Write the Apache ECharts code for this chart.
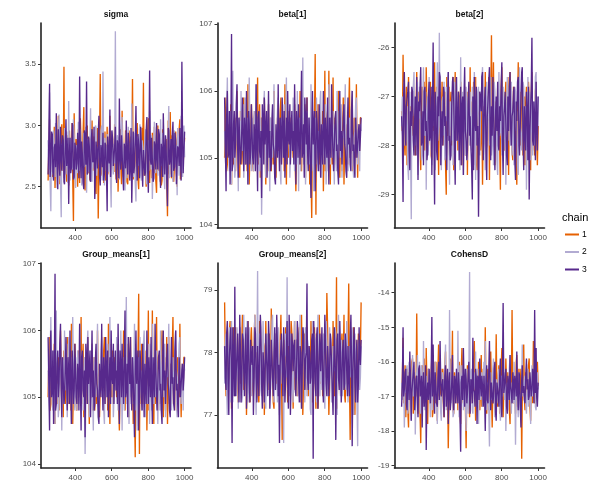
<!DOCTYPE html>
<html><head><meta charset="utf-8">
<script src="https://cdn.jsdelivr.net/npm/echarts@6/dist/echarts.min.js"></script>
<style>html,body{margin:0;padding:0;background:#fff}#c{width:600px;height:500px}</style>
</head><body><div id="c"></div>
<script>
// Thinned traces: 200 draws per chain, iterations 251..1000
const chainNames = ['1', '2', '3'];
const chainColors = ['#e66101', '#b2abd2', '#57298c'];
const panelTitles = ['sigma', 'beta[1]', 'beta[2]', 'Group_means[1]', 'Group_means[2]', 'CohensD'];
const xTickValues = [400, 600, 800, 1000];
const iterStart = 251, iterEnd = 1000, drawsPerChain = 200;

const sigmaTicks = [2.5, 3.0, 3.5];
const beta1Ticks = [104, 105, 106, 107];
const beta2Ticks = [-29, -28, -27, -26];
const gm1Ticks = [104, 105, 106, 107];
const gm2Ticks = [77, 78, 79];
const cohensTicks = [-19, -18, -17, -16, -15, -14];

// visible y extents of each panel
const sigmaRange = [2.163, 3.837];
const beta1Range = [103.95, 107.015];
const beta2Range = [-29.68, -25.5];
const gm1Range = [103.94, 107.01];
const gm2Range = [76.15, 79.43];
const cohensRange = [-19.07, -13.14];

const sigmaChain1 = [
2.55,2.81,3.05,2.67,2.62,2.93,2.88,2.58,2.71,2.99,2.49,2.76,2.95,2.60,2.66,3.08,2.80,2.52,2.58,2.85,
3.01,2.69,2.63,3.48,2.60,2.83,2.74,2.54,2.92,2.77,2.51,2.96,2.83,2.64,2.69,3.02,2.57,2.22,3.10,2.73,
2.64,2.89,2.78,2.50,2.97,2.71,2.53,3.06,2.87,2.61,2.70,2.94,3.15,2.56,2.47,2.82,2.76,3.00,2.61,2.68,
2.90,2.55,2.57,2.86,3.04,2.63,2.68,2.91,2.81,2.48,2.44,2.79,2.98,2.24,2.66,2.87,3.42,2.59,2.63,2.92,
2.86,2.53,2.72,2.95,2.55,2.69,2.99,2.60,2.67,2.84,3.08,2.58,2.50,2.90,2.79,2.65,2.62,3.01,2.93,2.56,
2.71,2.88,2.46,2.74,2.84,2.97,2.65,2.52,3.12,2.80,2.58,2.68,2.77,2.96,2.89,2.54,2.52,2.83,2.96,2.67,
2.69,2.91,2.74,3.38,2.56,2.78,2.82,2.60,2.63,2.95,3.02,2.57,2.48,2.86,2.91,2.64,2.70,2.98,2.75,3.35,
2.59,2.81,2.85,2.50,2.66,2.93,3.06,2.62,2.53,2.88,2.78,2.57,2.94,2.73,2.61,2.99,2.87,2.55,2.45,2.82,
3.00,2.63,2.68,2.90,2.80,2.51,2.55,2.97,2.97,2.66,2.64,2.85,2.89,2.58,2.26,3.04,2.73,2.60,3.11,2.77,
2.57,2.92,2.83,2.54,2.67,2.88,2.95,2.61,2.50,2.79,2.76,2.97,3.05,2.56,2.62,2.86,2.84,2.69,2.70,2.90];
const sigmaChain2 = [
2.88,2.64,3.27,2.55,2.30,2.91,2.74,2.60,2.96,2.70,2.58,3.02,2.81,2.49,2.66,2.93,3.09,2.62,2.52,2.25,
2.85,2.76,2.71,2.57,2.98,2.83,2.60,2.95,2.77,2.53,3.20,2.69,2.55,2.90,2.83,2.64,2.68,3.05,2.92,2.58,
2.49,2.84,2.75,2.61,3.03,2.72,2.63,2.97,2.86,2.51,2.57,2.80,2.94,2.66,2.70,2.99,2.45,2.78,2.89,2.62,
2.67,2.93,3.14,2.56,2.54,2.87,2.80,2.65,2.72,3.00,2.98,2.59,2.59,2.82,2.84,2.68,2.66,2.96,3.00,2.55,
3.44,2.77,2.51,2.90,2.78,2.63,2.93,2.71,2.62,2.88,2.87,2.52,2.33,2.95,2.74,2.60,2.85,2.69,3.77,2.64,
2.65,2.92,2.90,2.58,2.56,2.81,2.82,3.01,3.07,2.62,2.68,2.86,2.47,2.79,2.95,2.57,2.73,2.99,2.60,2.70,
2.86,2.61,3.18,2.74,2.58,2.94,2.79,2.53,2.38,2.83,2.91,2.67,2.69,2.97,3.01,2.59,2.55,2.88,2.83,2.64,
2.71,2.90,2.97,2.56,2.52,2.80,2.88,2.63,3.12,2.75,2.64,2.92,2.40,2.68,2.85,3.03,2.76,2.61,2.99,2.78,
2.59,2.87,2.81,2.54,3.05,2.72,2.67,2.94,2.93,2.60,2.48,2.82,2.78,2.66,2.62,2.95,3.16,2.57,2.70,2.89,
2.87,2.63,2.54,2.91,2.96,2.68,2.73,2.84,2.43,2.98,2.90,2.59,2.66,2.81,3.08,2.62,2.58,2.93,3.00,2.74];
const sigmaChain3 = [
2.60,2.89,3.34,2.58,2.70,2.95,2.93,2.62,2.55,2.82,2.85,2.66,3.10,2.71,2.48,2.97,2.77,2.59,2.99,2.73,
2.63,2.92,2.88,2.54,2.52,2.81,3.05,2.67,2.74,2.90,2.36,2.78,2.90,2.61,2.66,3.02,3.00,2.56,2.58,2.86,
2.81,2.64,2.69,2.94,2.95,2.57,3.40,2.75,2.57,2.87,2.76,2.53,2.48,2.96,2.92,2.68,3.36,2.60,2.62,2.91,
2.83,2.56,2.54,2.89,2.97,2.70,2.72,2.99,2.40,2.64,2.87,2.78,2.65,2.93,3.08,2.59,2.51,2.84,2.79,2.66,
2.94,2.55,2.61,2.86,2.84,2.63,2.30,2.91,2.75,2.69,3.13,2.58,2.58,2.96,2.89,2.67,2.68,2.82,2.99,2.62,
2.53,2.88,2.82,2.57,3.22,2.74,2.64,2.92,2.91,2.60,2.47,2.85,2.78,2.65,3.04,2.73,2.60,2.94,2.86,2.55,
2.71,2.98,2.37,2.69,2.95,2.61,2.67,2.88,3.16,2.70,2.55,2.93,2.84,2.57,2.73,2.99,2.99,2.63,2.50,2.80,
2.80,2.59,2.62,2.95,3.07,2.66,2.45,2.83,3.45,2.72,2.68,2.90,2.90,2.54,2.57,2.87,2.83,2.64,3.02,2.76,
2.64,2.97,2.93,2.60,2.49,2.85,2.79,2.58,3.10,2.81,2.60,2.92,2.87,2.56,2.34,2.98,2.96,2.68,2.72,2.89,
2.58,2.91,3.03,2.63,2.66,2.94,2.88,2.52,2.52,2.83,2.81,2.67,2.98,2.74,2.55,3.52,2.85,2.61,2.79,2.95];

const beta1Chain1 = [
105.0,105.6,105.9,104.8,104.9,105.4,105.5,105.1,105.2,105.8,104.6,105.3,105.7,104.9,105.3,105.6,104.8,105.2,106.0,105.4,
105.4,105.0,104.7,105.7,105.6,104.9,105.1,105.5,105.9,105.2,104.9,105.6,105.3,104.8,106.1,105.4,104.6,105.1,105.5,105.8,
105.2,104.9,104.8,105.6,105.7,105.0,105.0,105.4,106.2,104.9,105.4,105.8,104.7,105.3,105.6,104.9,105.1,105.7,105.9,105.2,
104.6,105.5,105.3,105.0,105.8,104.8,105.0,105.6,104.8,105.3,105.5,104.9,106.0,105.2,105.2,104.7,104.7,105.6,105.6,105.1,
105.1,105.7,105.9,104.9,104.9,105.5,105.4,104.8,106.1,105.3,104.6,105.8,105.3,105.0,105.7,104.9,104.9,105.6,105.5,105.2,
105.0,105.6,105.8,104.8,104.5,105.3,105.4,105.7,105.2,104.9,106.0,105.4,104.8,105.2,105.6,105.0,105.3,105.8,104.7,105.4,
105.9,105.0,105.1,105.5,104.6,105.3,104.8,104.1,105.5,105.0,105.1,105.6,106.55,104.15,105.4,104.9,105.8,105.2,104.9,105.6,
105.6,104.9,105.2,105.7,104.5,105.3,106.3,104.8,105.0,105.6,105.7,105.0,106.3,104.9,104.6,105.5,105.4,104.9,106.2,105.3,
104.8,105.6,105.5,104.9,105.1,105.7,106.0,105.0,104.7,105.4,105.6,104.8,105.2,105.9,104.6,105.3,105.9,104.9,105.3,105.5,
104.9,105.7,106.2,105.0,105.0,105.4,105.7,104.8,104.8,105.6,105.4,105.0,106.1,105.3,104.7,105.5,105.5,105.1,105.6,105.6];
const beta1Chain2 = [
105.4,105.0,104.8,105.6,106.2,105.1,105.0,104.8,105.7,105.4,104.6,105.9,106.3,105.0,105.2,104.7,104.9,105.5,105.8,105.1,
104.5,105.6,105.5,104.9,106.0,105.3,105.1,105.8,104.7,105.2,105.9,104.9,105.3,105.6,104.6,105.1,106.2,105.4,105.0,104.8,
105.6,105.2,104.8,105.7,105.4,104.9,106.1,105.3,104.9,105.5,105.7,104.8,105.2,105.6,104.15,105.0,105.5,105.8,106.0,105.1,
104.7,105.4,105.3,105.0,105.8,104.9,104.5,105.6,105.6,105.1,105.0,105.5,106.1,104.9,104.8,105.3,105.4,105.7,105.9,105.2,
105.1,104.8,104.6,105.5,105.7,105.0,105.3,105.8,104.9,105.2,106.2,105.0,105.0,105.5,105.6,104.7,104.7,105.3,105.5,105.1,
105.9,105.3,104.8,105.6,105.3,104.9,106.0,105.2,104.5,105.6,105.4,104.8,105.8,105.2,106.5,104.9,105.1,105.6,104.6,105.3,
105.7,104.9,105.2,105.6,104.9,105.3,106.1,104.8,105.0,105.5,104.5,105.2,105.6,104.9,105.9,105.3,104.8,105.4,105.3,105.8,
106.0,105.1,104.7,105.5,105.5,104.9,105.1,105.8,104.6,105.3,105.8,104.8,106.1,105.2,104.9,105.6,105.4,105.0,105.7,105.1,
104.6,105.5,105.2,104.8,106.0,105.3,104.9,105.7,105.5,105.0,105.8,104.7,104.7,105.4,105.3,105.6,106.1,104.9,105.0,105.5,
104.8,105.4,105.6,105.0,105.2,105.7,106.0,104.9,104.7,105.3,105.4,105.8,105.9,105.1,104.9,105.5,105.3,104.8,105.5,105.4];
const beta1Chain3 = [
105.9,105.2,104.5,105.6,106.0,105.0,105.1,105.7,104.6,105.3,106.85,104.8,104.9,105.5,105.7,105.0,105.2,105.8,106.1,105.1,
104.7,105.6,105.6,104.9,105.0,105.4,105.9,105.2,104.8,105.6,105.4,104.9,106.0,105.3,104.6,105.7,105.5,104.9,105.1,105.8,
105.8,105.0,104.9,105.5,105.3,104.8,106.1,105.2,104.5,105.6,105.7,105.1,105.0,105.4,104.4,105.8,105.6,104.9,105.9,105.2,
105.2,105.7,104.7,105.3,106.0,105.0,105.4,104.8,104.9,105.6,105.8,105.2,105.1,104.7,104.6,105.5,105.5,105.0,106.1,105.3,
104.8,105.6,105.3,104.9,105.9,105.4,105.0,105.7,104.7,105.2,105.6,104.9,106.0,105.3,105.2,105.8,104.9,105.4,105.7,105.1,
105.4,104.9,106.1,105.3,104.6,105.7,105.5,105.0,105.8,105.3,104.9,105.6,106.3,105.0,105.1,105.5,104.7,105.9,105.6,105.2,
105.9,105.1,104.8,105.6,105.3,104.9,104.4,105.4,106.0,105.2,105.2,105.7,104.5,105.0,105.7,105.5,105.0,104.8,105.8,105.3,
104.7,105.5,105.5,104.9,106.0,105.4,104.9,105.6,105.3,105.0,105.9,105.2,104.6,105.6,105.6,105.0,106.1,105.4,105.0,104.8,
104.8,105.6,105.7,105.1,105.2,104.8,104.6,105.7,106.0,105.1,105.4,104.9,104.9,105.6,105.8,105.2,105.1,104.8,104.7,105.5,
105.9,105.2,105.3,104.9,104.8,105.7,106.0,105.1,105.2,104.9,104.7,105.6,105.6,105.0,105.0,105.4,105.5,105.1,105.3,105.6];

const beta2Chain1 = [
-27.3,-27.7,-26.15,-27.0,-27.9,-28.2,-27.1,-26.8,-28.4,-27.5,-26.6,-27.9,-27.6,-27.2,-28.0,-26.9,-26.9,-27.8,-27.4,-27.1,
-28.2,-27.4,-26.5,-27.8,-27.7,-26.9,-27.0,-28.1,-28.5,-27.3,-26.8,-27.6,-27.5,-26.7,-28.1,-27.8,-26.4,-27.2,-27.2,-28.0,
-27.8,-27.1,-26.7,-28.2,-28.3,-27.0,-27.4,-27.7,-26.3,-28.0,-27.9,-26.8,-27.1,-27.5,-28.6,-27.3,-26.9,-27.9,-27.5,-26.7,
-28.0,-27.4,-27.2,-26.9,-28.4,-29.0,-26.6,-27.8,-27.7,-26.8,-28.2,-27.2,-26.9,-28.0,-27.4,-26.6,-28.5,-27.5,-26.5,-27.9,
-27.6,-27.1,-28.1,-26.9,-27.0,-28.3,-26.7,-27.5,-28.4,-27.0,-27.3,-27.9,-26.8,-28.2,-27.9,-26.9,-28.6,-27.2,-27.1,-27.7,
-26.4,-28.0,-27.8,-27.1,-28.2,-26.7,-27.0,-27.6,-26.6,-28.3,-28.5,-27.4,-27.3,-26.9,-26.9,-28.1,-27.7,-27.2,-28.8,-27.4,
-27.2,-27.9,-26.5,-28.1,-28.0,-27.0,-27.5,-26.6,-28.7,-27.4,-27.2,-25.75,-27.9,-27.0,-26.3,-28.2,-28.4,-27.1,-27.1,-27.8,
-26.8,-27.3,-27.6,-28.0,-28.9,-26.9,-26.4,-27.6,-27.3,-28.0,-28.1,-27.0,-26.7,-27.9,-27.8,-26.6,-28.6,-27.3,-26.5,-27.7,
-27.4,-28.1,-28.3,-26.8,-26.9,-27.6,-27.7,-28.4,-28.8,-27.2,-26.3,-27.8,-27.2,-26.9,-28.0,-27.4,-26.6,-28.2,-27.5,-27.0,
-28.4,-27.2,-26.8,-27.8,-27.9,-26.7,-27.1,-27.5,-28.5,-27.0,-26.5,-28.1,-27.6,-27.3,-28.2,-26.9,-26.7,-27.8,-28.4,-27.6];
const beta2Chain2 = [
-27.6,-27.0,-28.3,-26.9,-26.7,-28.0,-27.9,-27.3,-27.2,-28.4,-28.7,-27.1,-26.9,-28.1,-29.5,-27.2,-27.4,-26.8,-26.5,-27.9,
-28.0,-27.3,-27.1,-26.7,-28.6,-27.8,-26.8,-27.4,-27.5,-28.3,-28.2,-27.0,-26.4,-27.7,-27.8,-26.9,-28.9,-27.4,-27.0,-28.2,
-26.6,-27.5,-27.7,-28.1,-28.4,-27.0,-26.9,-27.6,-27.3,-28.5,-28.1,-27.2,-26.3,-27.9,-27.6,-25.7,-27.6,-28.0,-28.5,-27.1,
-27.0,-27.8,-26.7,-28.3,-28.2,-26.8,-27.5,-27.3,-26.5,-28.0,-28.8,-27.1,-27.2,-27.9,-26.9,-28.4,-27.8,-26.7,-28.3,-27.2,
-26.6,-27.9,-27.4,-27.0,-28.0,-28.5,-26.2,-27.4,-27.7,-26.9,-28.6,-27.6,-27.1,-28.2,-26.8,-27.5,-28.3,-27.0,-27.5,-28.0,
-26.9,-27.7,-28.1,-26.8,-27.3,-28.4,-26.5,-27.1,-28.7,-27.4,-27.6,-26.9,-26.8,-28.0,-28.2,-27.3,-27.0,-26.7,-26.4,-28.1,
-27.8,-27.2,-28.5,-27.5,-26.7,-27.9,-27.2,-26.8,-28.0,-27.4,-26.6,-28.2,-27.9,-27.0,-28.4,-26.7,-26.9,-27.8,-27.3,-28.3,
-28.6,-27.1,-26.5,-27.8,-27.7,-26.9,-28.2,-27.5,-26.8,-28.1,-27.4,-27.0,-28.8,-27.3,-26.6,-27.9,-27.1,-26.8,-28.0,-27.5,
-26.7,-28.2,-27.9,-27.1,-28.4,-26.8,-26.9,-27.7,-27.3,-28.4,-28.6,-27.1,-26.4,-27.6,-27.6,-28.1,-28.1,-26.7,-26.8,-27.9,
-27.5,-27.2,-28.9,-27.8,-26.6,-28.0,-27.2,-26.9,-28.3,-27.4,-26.9,-28.2,-27.7,-27.1,-28.0,-26.6,-26.5,-27.8,-27.4,-27.0];
const beta2Chain3 = [
-27.4,-27.8,-29.15,-27.0,-26.5,-27.6,-28.0,-27.2,-27.2,-26.9,-26.7,-28.1,-28.5,-27.3,-27.6,-26.8,-26.9,-27.9,-28.2,-27.4,
-27.0,-28.2,-26.6,-27.5,-28.7,-27.1,-27.3,-26.7,-26.4,-28.0,-27.9,-27.3,-28.4,-26.9,-26.8,-27.7,-27.5,-28.3,-28.1,-27.0,
-26.7,-27.9,-27.8,-26.8,-28.6,-27.4,-25.9,-27.8,-29.2,-26.9,-27.2,-28.1,-28.3,-27.0,-27.4,-26.5,-26.6,-28.4,-27.7,-27.3,
-28.0,-26.8,-26.9,-27.6,-27.4,-28.2,-28.5,-27.1,-26.5,-27.9,-27.8,-28.3,-28.2,-27.2,-26.7,-26.6,-27.1,-28.0,-28.8,-27.3,
-26.6,-27.9,-27.5,-26.9,-28.3,-27.6,-26.8,-28.4,-27.2,-27.0,-28.6,-26.9,-26.4,-27.7,-27.9,-28.3,-28.1,-27.1,-26.7,-27.8,
-27.4,-28.0,-28.4,-29.1,-27.0,-28.5,-26.6,-27.5,-27.7,-26.8,-28.0,-27.6,-29.45,-28.2,-26.9,-27.0,-27.3,-26.6,-26.5,-28.3,
-27.6,-27.1,-26.8,-28.1,-28.7,-27.4,-27.1,-26.7,-26.4,-27.9,-28.3,-27.2,-27.8,-26.6,-26.6,-28.0,-28.5,-27.3,-27.0,-27.7,
-26.7,-28.0,-28.1,-27.2,-27.5,-26.8,-26.3,-27.9,-28.6,-27.4,-27.2,-26.9,-26.9,-28.2,-28.4,-27.0,-27.7,-26.8,-26.5,-27.6,
-28.0,-27.4,-27.3,-26.9,-26.8,-28.3,-28.7,-27.1,-27.5,-26.7,-26.6,-28.0,-28.2,-27.6,-27.0,-26.5,-26.4,-27.8,-28.5,-27.2,
-27.6,-28.1,-26.9,-27.3,-28.3,-26.8,-29.1,-27.7,-27.2,-26.9,-25.8,-27.9,-28.0,-27.1,-27.4,-28.3,-26.7,-27.5,-28.1,-27.0];

// Group_means[1] traces are identical to beta[1] in the reference
const gm1Chain1 = beta1Chain1;
const gm1Chain2 = beta1Chain2;
const gm1Chain3 = beta1Chain3;

const gm2Chain1 = [
78.8,77.9,77.3,78.1,78.2,77.5,77.6,78.3,78.5,77.7,77.1,77.9,78.0,78.4,77.5,77.3,78.4,78.1,77.8,77.4,
77.2,78.0,78.3,77.5,77.7,78.2,78.6,77.6,77.4,77.9,78.1,78.3,77.0,77.7,78.5,78.0,77.6,77.2,78.2,78.4,
77.9,77.5,77.3,78.2,78.6,77.6,77.5,78.0,78.0,77.3,77.2,78.5,78.4,77.8,77.7,77.4,78.2,78.1,77.0,77.6,
78.5,77.9,77.6,77.4,78.1,78.3,77.3,77.6,78.7,78.0,77.8,77.2,77.1,78.3,78.3,77.7,77.5,78.1,78.0,77.5,
77.4,78.2,78.6,77.7,76.6,77.9,78.2,77.3,77.7,78.4,78.4,77.6,77.2,78.1,78.0,77.4,77.5,78.5,78.3,77.9,
77.1,77.9,78.5,77.4,77.8,78.2,77.3,77.6,78.1,78.4,77.6,77.2,78.6,78.0,77.0,77.5,78.2,78.3,77.7,77.4,
78.4,77.8,77.3,78.1,77.9,77.5,78.5,78.2,77.2,77.6,78.0,78.4,77.6,77.1,78.3,78.0,77.1,77.4,78.6,78.2,
77.5,77.8,78.1,77.3,77.4,78.2,78.1,77.6,77.7,78.95,78.4,77.9,77.0,77.5,78.2,78.0,77.6,77.3,78.5,78.1,
77.3,78.1,77.8,79.2,77.1,77.6,78.3,78.0,77.6,77.4,78.0,78.3,77.4,77.9,78.6,77.3,77.2,78.1,77.8,77.5,
78.2,79.1,77.5,76.6,78.2,77.9,77.5,78.0,78.4,77.4,77.0,78.2,78.1,77.6,77.7,78.3,78.3,77.6,78.0,78.8];
const gm2Chain2 = [
77.5,78.1,78.3,77.4,77.0,77.8,78.1,78.4,77.7,77.2,78.5,77.9,77.2,77.6,78.0,78.3,77.6,77.3,78.4,78.0,
77.1,77.7,78.2,78.4,77.8,77.2,77.3,78.1,78.6,77.7,77.5,77.9,78.0,78.5,77.2,77.5,78.4,78.1,77.7,77.3,
78.1,77.8,77.4,78.2,78.6,77.5,77.0,77.9,79.3,77.6,77.6,78.3,78.2,77.4,77.3,77.9,78.5,78.0,77.8,77.2,
77.1,77.9,78.3,77.5,77.6,78.2,78.0,77.4,77.4,78.5,78.6,77.7,77.2,77.4,78.1,78.3,77.7,77.2,78.4,78.0,
77.0,77.7,78.2,77.8,77.5,77.6,76.55,77.9,78.0,78.3,77.6,79.2,77.4,77.8,77.3,77.5,78.3,78.0,77.8,77.4,
77.2,78.0,78.5,77.6,77.7,78.2,78.0,77.3,77.4,78.1,78.6,77.5,77.1,77.8,78.2,78.4,77.6,77.2,78.4,77.9,
77.3,78.2,78.1,77.5,77.8,77.1,77.0,78.0,78.5,77.6,77.5,78.3,78.2,77.4,77.2,77.8,78.6,78.1,77.7,77.3,
78.0,77.6,77.4,78.2,78.3,77.5,77.1,77.9,78.5,78.2,77.6,77.3,77.9,78.4,78.4,77.6,77.2,77.7,78.1,78.0,
77.7,78.4,78.3,77.5,77.0,77.8,78.6,78.1,77.5,77.3,78.2,78.0,77.3,77.6,78.0,78.3,77.6,77.4,78.5,78.1,
77.2,77.9,78.1,77.6,77.8,78.3,78.4,77.5,77.0,77.8,78.3,77.9,77.5,77.3,76.5,78.0,78.2,77.4,77.6,78.1];
const gm2Chain3 = [
78.1,77.6,77.4,78.3,78.5,77.5,77.0,77.9,78.2,78.4,77.6,76.55,78.4,77.8,77.3,79.05,77.3,77.7,78.0,78.3,
77.6,77.2,78.6,78.0,77.2,77.5,78.3,78.2,77.7,77.3,78.0,78.4,77.1,77.6,78.5,78.0,77.5,77.2,78.2,77.9,
77.8,78.1,77.0,77.6,78.4,78.3,77.6,77.2,78.1,77.7,77.3,78.0,78.6,78.4,77.5,77.1,78.0,77.8,77.2,77.6,
78.3,77.9,77.7,77.3,78.5,78.2,77.1,77.5,78.2,77.9,77.6,77.3,78.0,78.4,77.4,77.6,78.6,78.1,77.3,77.8,
76.55,77.8,78.1,78.3,77.8,77.3,78.4,78.0,77.2,77.6,78.0,78.5,77.5,77.1,78.6,78.2,77.0,77.5,78.3,78.1,
77.7,78.1,78.2,77.4,77.3,77.8,78.5,78.3,77.6,77.2,78.1,78.0,77.1,77.5,78.4,78.3,77.8,77.4,77.9,78.0,
79.1,77.6,77.4,78.1,78.0,77.5,77.6,78.2,78.3,76.3,78.5,78.0,77.5,77.3,78.2,78.4,77.1,77.6,78.0,78.3,
77.7,78.1,78.4,77.5,77.2,77.9,78.6,78.2,77.5,77.3,78.1,77.9,77.3,77.7,78.3,78.2,77.8,77.4,77.0,77.6,
78.4,77.9,76.6,77.8,78.2,78.3,77.6,77.4,78.5,78.0,77.2,77.6,78.0,78.2,77.4,77.5,78.3,78.1,77.7,77.3,
78.1,77.6,77.3,78.2,78.6,77.9,76.5,77.7,78.2,78.4,77.5,77.2,78.0,78.2,77.2,77.5,78.4,78.0,77.8,78.2];

const cohensChain1 = [
-17.0,-16.5,-15.3,-17.2,-16.9,-16.1,-17.6,-16.8,-16.2,-17.4,-17.9,-16.3,-16.5,-17.1,-17.3,-16.0,-15.9,-17.5,-17.1,-16.4,
-16.4,-17.0,-14.6,-16.9,-17.5,-16.2,-16.8,-17.7,-18.35,-16.5,-16.1,-16.9,-17.2,-15.9,-16.6,-17.3,-15.6,-16.7,-17.8,-16.2,
-16.3,-17.1,-17.0,-16.4,-15.8,-17.6,-17.4,-16.0,-16.7,-17.2,-16.0,-16.6,-17.7,-16.3,-15.5,-17.0,-16.9,-16.2,-17.3,-16.8,
-16.2,-17.3,-17.6,-16.1,-15.7,-17.0,-16.8,-16.4,-18.5,-17.1,-16.4,-15.9,-17.1,-16.6,-15.1,-17.4,-17.5,-16.3,-16.6,-17.2,
-16.9,-16.2,-17.4,-16.8,-16.0,-17.5,-17.8,-16.3,-15.6,-17.0,-17.2,-16.5,-16.5,-17.3,-18.5,-16.7,-16.1,-16.4,-17.0,-17.6,
-17.6,-16.6,-16.3,-17.2,-17.1,-16.0,-15.4,-16.9,-17.7,-16.4,-16.6,-17.1,-16.0,-16.5,-17.4,-16.8,-15.8,-17.3,-16.9,-16.2,
-16.5,-17.0,-15.0,-16.7,-17.5,-16.3,-16.2,-17.4,-17.0,-16.1,-15.7,-16.9,-17.9,-16.6,-16.4,-17.2,-17.2,-16.5,-15.2,-17.0,
-17.3,-16.4,-16.1,-17.5,-16.8,-16.2,-15.6,-17.1,-17.6,-16.6,-16.4,-17.0,-15.9,-16.8,-17.1,-16.3,-16.6,-17.4,-17.8,-16.5,
-16.9,-14.5,-16.9,-17.2,-16.3,-16.7,-17.5,-16.0,-15.8,-17.3,-16.7,-16.2,-17.1,-16.6,-16.2,-18.8,-17.0,-16.4,-15.5,-17.1,
-17.4,-16.3,-16.5,-17.0,-16.9,-16.1,-15.9,-17.3,-17.7,-16.6,-16.3,-17.2,-15.4,-16.8,-17.2,-16.4,-16.6,-17.0,-16.0,-16.7];
const cohensChain2 = [
-16.6,-17.1,-15.6,-16.4,-17.9,-16.8,-16.9,-16.2,-16.1,-17.5,-17.3,-16.0,-16.5,-17.2,-17.7,-16.4,-15.8,-17.0,-17.0,-16.3,
-18.1,-16.9,-16.3,-15.8,-17.2,-16.5,-16.0,-17.4,-17.5,-16.1,-16.7,-17.3,-15.4,-16.6,-17.4,-16.9,-16.4,-17.1,-16.9,-16.2,
-16.2,-17.0,-17.6,-16.3,-16.8,-17.4,-15.9,-16.6,-17.1,-16.0,-16.5,-17.2,-17.8,-16.5,-16.1,-16.9,-17.0,-17.5,-17.7,-16.3,
-16.4,-17.1,-16.9,-16.2,-15.5,-17.4,-17.3,-16.7,-16.6,-17.0,-14.5,-16.8,-17.2,-16.3,-16.0,-17.6,-17.5,-16.4,-16.7,-16.9,
-16.3,-17.2,-15.1,-16.6,-17.6,-16.1,-16.8,-17.3,-16.1,-16.6,-17.4,-16.9,-16.5,-17.1,-18.0,-16.2,-16.9,-17.5,-16.4,-13.4,
-17.1,-16.5,-16.2,-17.4,-17.5,-16.3,-16.6,-16.8,-15.7,-17.3,-17.0,-16.2,-17.8,-16.8,-16.4,-17.1,-16.8,-16.3,-17.3,-16.5,
-16.0,-16.7,-15.4,-17.2,-17.4,-16.6,-16.7,-17.3,-18.45,-16.5,-16.3,-17.1,-17.0,-16.2,-15.9,-17.0,-17.6,-16.8,-16.5,-17.2,
-16.9,-16.4,-16.2,-17.3,-17.7,-16.5,-16.4,-17.0,-15.6,-16.7,-17.1,-16.3,-18.0,-16.8,-16.6,-17.4,-16.8,-16.2,-15.8,-17.0,
-17.5,-16.6,-16.7,-17.2,-16.0,-16.7,-18.4,-16.5,-16.3,-17.1,-17.6,-16.3,-16.9,-17.4,-17.3,-16.6,-15.5,-17.0,-16.8,-16.5,
-16.4,-17.2,-17.5,-16.6,-16.2,-17.3,-16.9,-16.5,-17.8,-16.8,-16.1,-17.0,-16.7,-16.2,-15.7,-17.3,-17.4,-16.6,-16.3,-16.8];
const cohensChain3 = [
-17.3,-16.6,-15.0,-17.0,-16.8,-16.3,-16.2,-17.2,-17.4,-16.4,-16.5,-17.1,-15.7,-16.5,-17.7,-16.9,-16.9,-16.3,-16.0,-17.4,
-17.1,-16.5,-16.4,-17.2,-17.6,-16.2,-16.1,-17.0,-16.8,-16.4,-17.9,-16.6,-16.3,-17.3,-17.0,-16.1,-18.55,-16.9,-16.6,-17.1,
-16.2,-16.8,-17.2,-16.4,-14.7,-17.0,-15.5,-16.9,-17.5,-16.3,-16.7,-17.2,-17.3,-16.5,-16.0,-17.1,-15.4,-16.6,-17.0,-16.7,
-16.5,-17.1,-17.6,-16.4,-16.1,-17.3,-16.9,-16.2,-17.8,-16.6,-16.3,-17.4,-17.1,-16.6,-15.8,-17.0,-17.4,-16.4,-16.6,-17.2,
-16.2,-16.9,-17.2,-16.3,-16.7,-17.5,-18.6,-16.6,-16.4,-17.1,-15.6,-16.7,-17.3,-16.2,-16.5,-17.2,-16.9,-16.4,-16.0,-17.0,
-17.5,-16.5,-16.6,-17.2,-15.3,-16.8,-16.9,-17.3,-16.2,-16.5,-17.8,-16.4,-16.5,-17.1,-15.9,-16.7,-17.0,-16.4,-16.7,-17.3,
-16.4,-16.9,-18.0,-16.5,-16.1,-17.1,-17.2,-16.3,-15.4,-16.8,-17.4,-16.6,-16.6,-17.2,-17.0,-16.2,-16.0,-17.5,-17.7,-16.6,
-16.8,-17.0,-17.3,-16.4,-15.9,-17.2,-17.6,-16.5,-14.3,-16.9,-16.9,-16.5,-16.2,-17.3,-17.5,-16.4,-16.6,-17.1,-15.8,-16.7,
-16.9,-17.2,-16.3,-16.6,-17.1,-16.4,-16.6,-17.0,-15.7,-16.8,-17.4,-16.3,-16.4,-17.3,-17.9,-16.5,-16.1,-16.9,-16.7,-17.1,
-17.2,-16.4,-15.9,-16.8,-16.5,-17.1,-17.0,-16.3,-16.3,-17.0,-16.8,-16.2,-16.6,-17.2,-14.5,-16.9,-15.6,-17.0,-17.3,-16.6];

const panelChains = [
  [sigmaChain1, sigmaChain2, sigmaChain3],
  [beta1Chain1, beta1Chain2, beta1Chain3],
  [beta2Chain1, beta2Chain2, beta2Chain3],
  [gm1Chain1, gm1Chain2, gm1Chain3],
  [gm2Chain1, gm2Chain2, gm2Chain3],
  [cohensChain1, cohensChain2, cohensChain3]
];
const panelTicks = [sigmaTicks, beta1Ticks, beta2Ticks, gm1Ticks, gm2Ticks, cohensTicks];
const panelRanges = [sigmaRange, beta1Range, beta2Range, gm1Range, gm2Range, cohensRange];

// ---- layout ----
const FONT = "'Liberation Sans', Arial, sans-serif";
const colLeft = [41, 217.5, 394.5];
const rowTop = [23, 263];
const gridW = 150, gridH = 205;
const xMin = 212, xMax = 1035;

const iterations = [];
for (let i = 0; i < drawsPerChain; i++) iterations.push(Math.round(iterStart + i * (iterEnd - iterStart) / (drawsPerChain - 1)));

const grids = [], xAxes = [], yAxes = [], series = [], graphics = [];
panelTitles.forEach((t, p) => {
  const col = p % 3, row = Math.floor(p / 3);
  grids.push({ left: colLeft[col], top: rowTop[row], width: gridW, height: gridH, containLabel: false });
  const axisLine = { show: true, onZero: false, lineStyle: { color: '#222', width: 1.6 } };
  xAxes.push({
    type: 'value', gridIndex: p, min: xMin, max: xMax,
    axisLine, splitLine: { show: false },
    axisTick: { show: true, length: 3, lineStyle: { color: '#333', width: 1 }, customValues: xTickValues },
    axisLabel: { customValues: xTickValues, color: '#4d4d4d', fontSize: 8, fontFamily: FONT, margin: 6,
      formatter: v => String(Math.round(v)) }
  });
  const ticks = panelTicks[p];
  yAxes.push({
    type: 'value', gridIndex: p, min: panelRanges[p][0], max: panelRanges[p][1],
    axisLine, splitLine: { show: false },
    axisTick: { show: true, length: 3, lineStyle: { color: '#333', width: 1 }, customValues: ticks },
    axisLabel: { customValues: ticks, color: '#4d4d4d', fontSize: 8, fontFamily: FONT, margin: 5,
      formatter: v => (p === 0 ? Number(v).toFixed(1) : String(Math.round(v))) }
  });
  panelChains[p].forEach((arr, c) => {
    series.push({
      type: 'line', name: chainNames[c], xAxisIndex: p, yAxisIndex: p,
      data: iterations.map((x, i) => [x, arr[i]]),
      showSymbol: false, symbol: 'none', silent: true, animation: false,
      lineStyle: { color: chainColors[c], width: 1.35 }, itemStyle: { color: chainColors[c] }, z: 2 + c
    });
  });
  graphics.push({
    type: 'text', x: colLeft[col] + gridW / 2, y: rowTop[row] - 13,
    style: { text: t, font: "bold 8.5px " + FONT, fill: '#111', align: 'center', verticalAlign: 'top' }
  });
});

const chart = echarts.init(document.getElementById('c'), null, { renderer: 'canvas' });
chart.setOption({
  backgroundColor: '#fff',
  animation: false,
  grid: grids, xAxis: xAxes, yAxis: yAxes, series,
  title: { text: 'chain', left: 562, top: 212, textStyle: { fontSize: 11, fontWeight: 'normal', color: '#000', fontFamily: FONT }, padding: 0 },
  legend: {
    data: chainNames, orient: 'vertical', left: 565, top: 230, icon: 'rect',
    itemWidth: 14, itemHeight: 2, itemGap: 8.5, padding: 0,
    textStyle: { fontSize: 8.5, color: '#000', fontFamily: FONT, padding: [0, 0, 0, -2] },
    selectedMode: false
  },
  graphic: graphics
});
</script></body></html>
